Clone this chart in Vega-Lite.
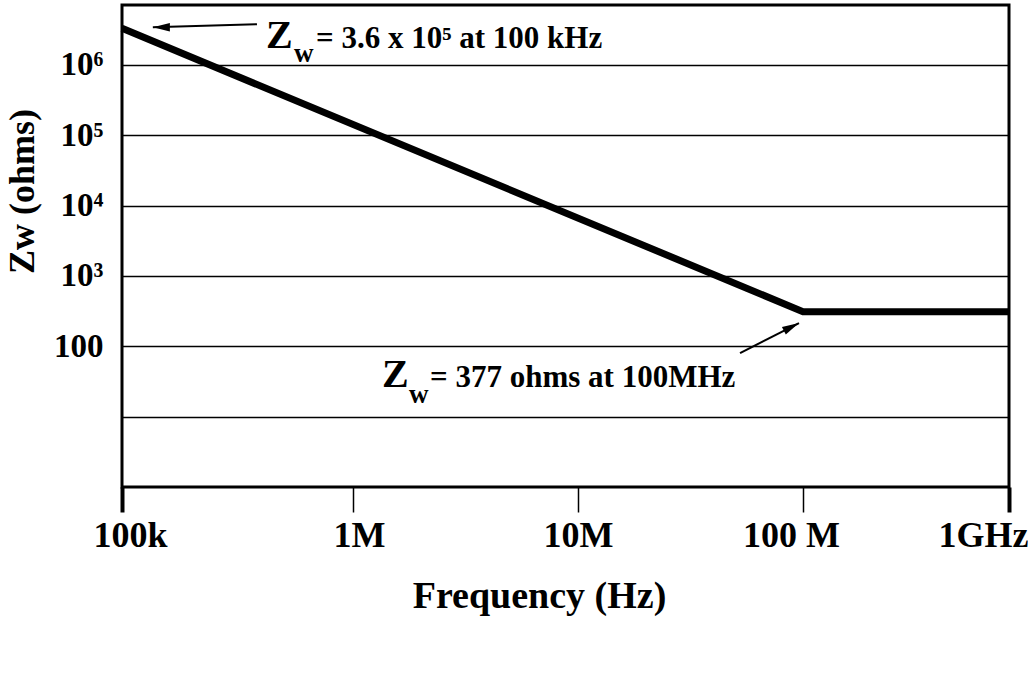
{
  "$schema": "https://vega.github.io/schema/vega-lite/v6.json",
  "width": 887,
  "height": 482,
  "autosize": "none",
  "padding": {"left": 122, "top": 5, "right": 19, "bottom": 211},
  "background": "white",
  "config": {
    "view": {"stroke": "black", "strokeWidth": 3},
    "font": "Liberation Serif"
  },
  "datasets": {
    "curve": [
      {"f": 100000, "z": 3300000},
      {"f": 100000000, "z": 310},
      {"f": 1000000000, "z": 310}
    ],
    "arrows": [
      {"note": "top", "f": 384000, "z": 3770000, "f2": 136000, "z2": 3420000},
      {"note": "bottom", "f": 52500000, "z": 80, "f2": 96000000, "z2": 214}
    ],
    "notes": [
      {"note": "top", "part": "Z", "f": 420000, "z": 1720000, "text": "Z"},
      {"note": "top", "part": "w", "f": 555000, "z": 1090000, "text": "w"},
      {"note": "top", "part": "rest", "f": 692000, "z": 1720000, "text": "= 3.6 x 10⁵ at 100 kHz"},
      {"note": "bottom", "part": "Z", "f": 1345000, "z": 26.3, "text": "Z"},
      {"note": "bottom", "part": "w", "f": 1774000, "z": 15.6, "text": "w"},
      {"note": "bottom", "part": "rest", "f": 2200000, "z": 26.3, "text": "= 377 ohms at 100MHz"}
    ]
  },
  "encoding": {
    "x": {
      "field": "f",
      "type": "quantitative",
      "scale": {
        "type": "log",
        "domain": [100000, 1000000, 10000000, 100000000, 1000000000],
        "range": [0, 231, 456, 681, 887],
        "nice": false,
        "zero": false
      },
      "axis": {
        "title": "Frequency (Hz)",
        "titleFont": "Liberation Serif",
        "titleFontSize": 38,
        "titleFontWeight": "bold",
        "titleColor": "black",
        "titleX": 417,
        "titleY": 120,
        "titleAlign": "center",
        "titleBaseline": "alphabetic",
        "values": [100000, 1000000, 10000000, 100000000, 1000000000],
        "labelExpr": "datum.value == 1e5 ? '100k' : datum.value == 1e6 ? '1M' : datum.value == 1e7 ? '10M' : datum.value == 1e8 ? '100 M' : '1GHz'",
        "labelFont": "Liberation Serif",
        "labelFontSize": 36,
        "labelFontWeight": "bold",
        "labelColor": "black",
        "labelPadding": 6,
        "labelOverlap": false,
        "labelBound": false,
        "labelFlush": false,
        "labelOffset": {
          "condition": [
            {"test": "datum.value == 1e5", "value": 8},
            {"test": "datum.value == 1e6", "value": 6},
            {"test": "datum.value == 1e8", "value": -12},
            {"test": "datum.value == 1e9", "value": -26}
          ],
          "value": 0
        },
        "domain": false,
        "grid": false,
        "ticks": true,
        "tickSize": 25,
        "tickColor": "black",
        "tickWidth": {
          "condition": {"test": "datum.value == 1e5 || datum.value == 1e9", "value": 4},
          "value": 1.5
        }
      }
    },
    "y": {
      "field": "z",
      "type": "quantitative",
      "scale": {"type": "log", "domain": [1, 7080000], "nice": false, "zero": false},
      "axis": {
        "title": "Zw (ohms)",
        "titleFont": "Liberation Serif",
        "titleFontSize": 36,
        "titleFontWeight": "bold",
        "titleColor": "black",
        "titleX": -100,
        "titleY": 186,
        "titleAlign": "center",
        "titleBaseline": "middle",
        "values": [10, 100, 1000, 10000, 100000, 1000000],
        "labelExpr": "datum.value == 100 ? '100' : datum.value == 1000 ? '10³' : datum.value == 10000 ? '10⁴' : datum.value == 100000 ? '10⁵' : datum.value == 1000000 ? '10⁶' : ''",
        "labelFont": "Liberation Serif",
        "labelFontSize": 33,
        "labelFontWeight": "bold",
        "labelColor": "black",
        "labelPadding": 19,
        "labelOverlap": false,
        "labelBound": false,
        "domain": false,
        "ticks": false,
        "grid": true,
        "gridColor": "black",
        "gridWidth": 1.5,
        "gridOpacity": 1
      }
    }
  },
  "layer": [
    {
      "data": {"name": "curve"},
      "mark": {"type": "line", "color": "black", "strokeWidth": 7, "strokeJoin": "miter"}
    },
    {
      "data": {"name": "arrows"},
      "mark": {"type": "rule", "color": "black", "strokeWidth": 2},
      "encoding": {
        "x2": {"field": "f2"},
        "y2": {"field": "z2"}
      }
    },
    {
      "data": {"name": "arrows"},
      "transform": [{"filter": "datum.note == 'top'"}],
      "mark": {"type": "point", "shape": "M0,0L2,-0.5L2,0.5Z", "filled": true, "color": "black", "opacity": 1, "size": 289, "angle": 0},
      "encoding": {
        "x": {"field": "f2", "type": "quantitative"},
        "y": {"field": "z2", "type": "quantitative"}
      }
    },
    {
      "data": {"name": "arrows"},
      "transform": [{"filter": "datum.note == 'bottom'"}],
      "mark": {"type": "point", "shape": "M0,0L2,-0.5L2,0.5Z", "filled": true, "color": "black", "opacity": 1, "size": 289, "angle": 153},
      "encoding": {
        "x": {"field": "f2", "type": "quantitative"},
        "y": {"field": "z2", "type": "quantitative"}
      }
    },
    {
      "data": {"name": "notes"},
      "transform": [{"filter": "datum.part == 'Z'"}],
      "mark": {"type": "text", "align": "left", "baseline": "alphabetic", "font": "Liberation Serif", "fontWeight": "bold", "fontSize": 40, "color": "black"},
      "encoding": {"text": {"field": "text"}}
    },
    {
      "data": {"name": "notes"},
      "transform": [{"filter": "datum.part == 'w'"}],
      "mark": {"type": "text", "align": "left", "baseline": "alphabetic", "font": "Liberation Serif", "fontWeight": "bold", "fontSize": 27, "color": "black"},
      "encoding": {"text": {"field": "text"}}
    },
    {
      "data": {"name": "notes"},
      "transform": [{"filter": "datum.part == 'rest'"}],
      "mark": {"type": "text", "align": "left", "baseline": "alphabetic", "font": "Liberation Serif", "fontWeight": "bold", "fontSize": 31, "color": "black"},
      "encoding": {"text": {"field": "text"}}
    }
  ]
}
